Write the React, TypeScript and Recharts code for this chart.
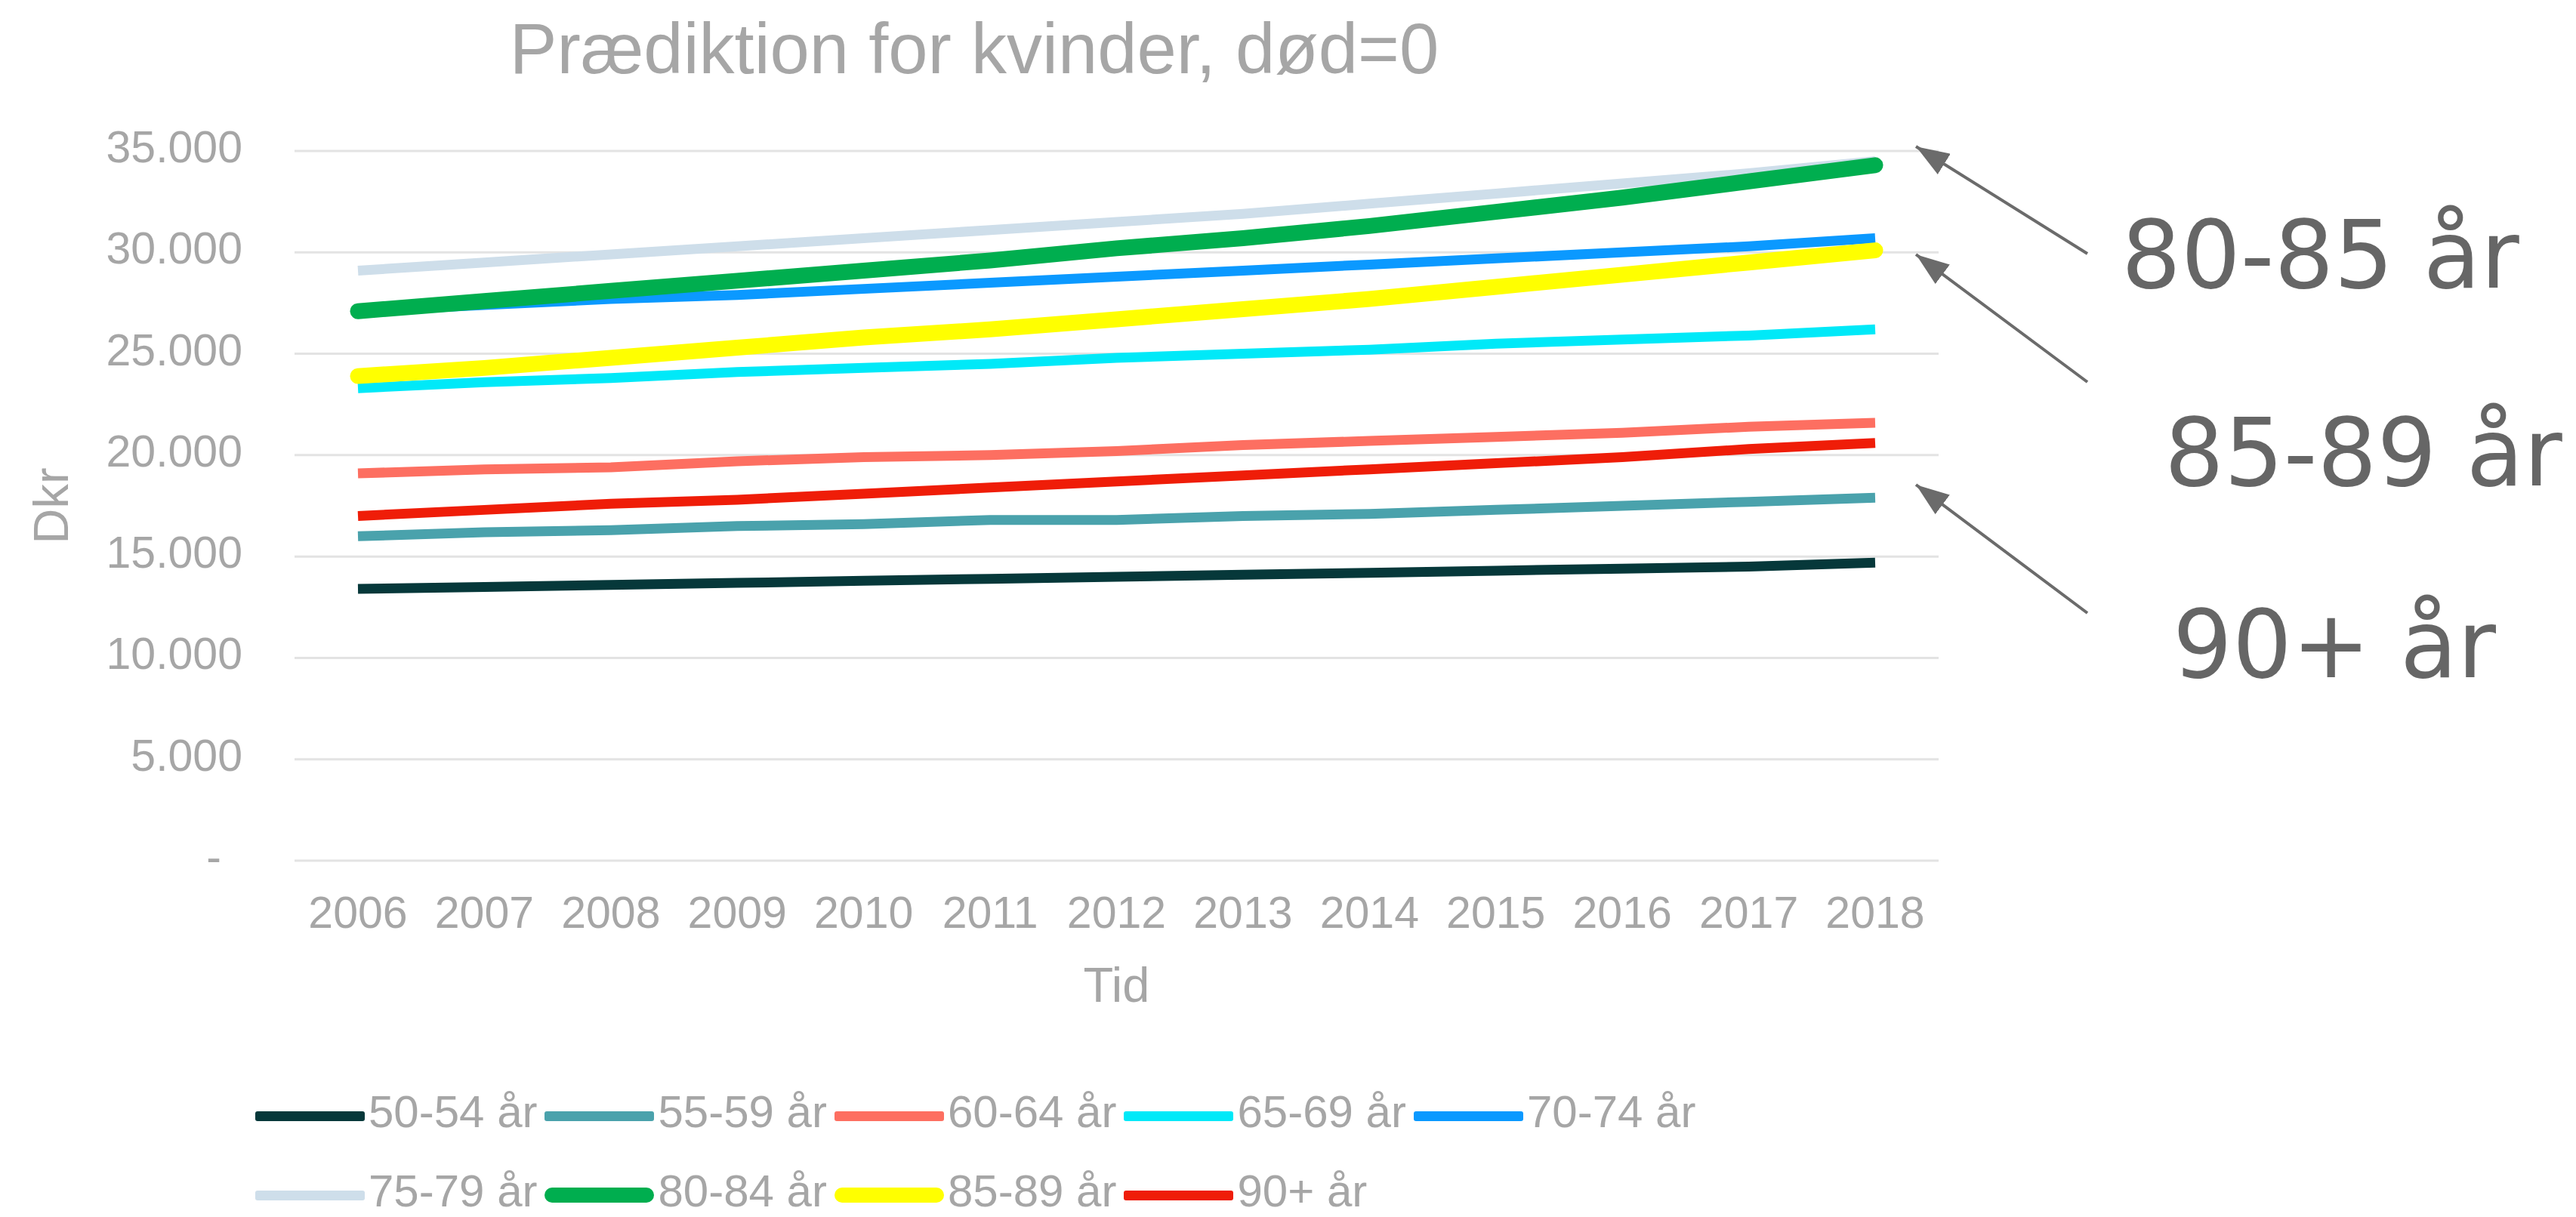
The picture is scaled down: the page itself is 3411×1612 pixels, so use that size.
import { LineChart, Line, XAxis, YAxis, CartesianGrid, Legend } from 'recharts'

const FONT = '"Liberation Sans", Arial, sans-serif'
const TEXT = '#a6a6a6'

const years = ['2006', '2007', '2008', '2009', '2010', '2011', '2012', '2013', '2014', '2015', '2016', '2017', '2018']

const age5054 = [13400, 13500, 13600, 13700, 13800, 13900, 14000, 14100, 14200, 14300, 14400, 14500, 14700]
const age5559 = [16000, 16200, 16300, 16500, 16600, 16800, 16800, 17000, 17100, 17300, 17500, 17700, 17900]
const age6064 = [19100, 19300, 19400, 19700, 19900, 20000, 20200, 20500, 20700, 20900, 21100, 21400, 21600]
const age6569 = [23300, 23600, 23800, 24100, 24300, 24500, 24800, 25000, 25200, 25500, 25700, 25900, 26200]
const age7074 = [27100, 27400, 27700, 27900, 28200, 28500, 28800, 29100, 29400, 29700, 30000, 30300, 30700]
const age7579 = [29100, 29500, 29900, 30300, 30700, 31100, 31500, 31900, 32400, 32900, 33400, 33900, 34500]
const age8084 = [27100, 27600, 28100, 28600, 29100, 29600, 30200, 30700, 31300, 32000, 32700, 33500, 34300]
const age8589 = [23900, 24300, 24800, 25300, 25800, 26200, 26700, 27200, 27700, 28300, 28900, 29500, 30100]
const age90 = [17000, 17300, 17600, 17800, 18100, 18400, 18700, 19000, 19300, 19600, 19900, 20300, 20600]

const yTicks = [0, 5000, 10000, 15000, 20000, 25000, 30000, 35000]

const seriesList = [
  { key: 'a5054', name: '50-54 år', color: '#06383a', thick: false, values: age5054 },
  { key: 'a5559', name: '55-59 år', color: '#4aa2ac', thick: false, values: age5559 },
  { key: 'a6064', name: '60-64 år', color: '#fd6f61', thick: false, values: age6064 },
  { key: 'a6569', name: '65-69 år', color: '#00e9f8', thick: false, values: age6569 },
  { key: 'a7074', name: '70-74 år', color: '#0b99ff', thick: false, values: age7074 },
  { key: 'a7579', name: '75-79 år', color: '#cedeea', thick: false, values: age7579 },
  { key: 'a8084', name: '80-84 år', color: '#00ae4f', thick: true, values: age8084 },
  { key: 'a8589', name: '85-89 år', color: '#ffff00', thick: true, values: age8589 },
  { key: 'a90', name: '90+ år', color: '#ef1d08', thick: false, values: age90 },
]

const data = years.map((year, i) => {
  const row: Record<string, string | number> = { year }
  seriesList.forEach((s) => {
    row[s.key] = s.values[i]
  })
  return row
})

function fmt(v: number) {
  return String(v).replace(/\B(?=(\d{3})+(?!\d))/g, '.')
}

function YTick(props: any) {
  const { x, y, payload } = props
  const zero = payload.value === 0
  return (
    <text x={zero ? x - 28 : x} y={y - 6} dy="0.355em" textAnchor="end" fill={TEXT} fontSize={59} fontFamily={FONT}>
      {zero ? '-' : fmt(payload.value)}
    </text>
  )
}

function DkrLabel(props: any) {
  const { viewBox } = props
  const cy = viewBox.y + viewBox.height / 2
  return (
    <text x={67} y={cy} transform={`rotate(-90 67 ${cy})`} textAnchor="middle" dy="0.355em" fill={TEXT} fontSize={65} fontFamily={FONT}>
      Dkr
    </text>
  )
}

function LegendContent() {
  return (
    <div style={{ display: 'flex', flexWrap: 'wrap', width: 1980, fontFamily: FONT, fontSize: 60, color: TEXT }}>
      {seriesList.map((s) => (
        <div key={s.key} style={{ display: 'flex', alignItems: 'center', height: 105, marginRight: 10 }}>
          <div
            style={{
              width: 145,
              height: s.thick ? 20 : 13,
              marginTop: 11,
              background: s.color,
              borderRadius: s.thick ? 10 : 3,
            }}
          />
          <span style={{ marginLeft: 5, lineHeight: '105px', whiteSpace: 'nowrap' }}>{s.name}</span>
        </div>
      ))}
    </div>
  )
}

// callouts to the right of the plot
const callouts = [
  { text: '80-85 år', tx: 2809, ty: 381, from: [2764, 336], to: [2537, 194] },
  { text: '85-89 år', tx: 2866, ty: 643, from: [2764, 506], to: [2537, 337] },
  { text: '90+ år', tx: 2877, ty: 897, from: [2764, 812], to: [2537, 642] },
]

export default function App() {
  return (
    <div style={{ position: 'fixed', left: 0, top: 0, width: 3411, height: 1612, overflow: 'hidden', background: '#fff' }}>
      <LineChart width={3411} height={1612} data={data} margin={{ top: 200, right: 844, bottom: 280, left: 0 }}>
        <CartesianGrid vertical={false} stroke="#e3e3e3" strokeWidth={3} />
        <XAxis
          dataKey="year"
          interval={0}
          padding={{ left: 84, right: 84 }}
          axisLine={false}
          tickLine={false}
          tickSize={0}
          tickMargin={47}
          height={192}
          tick={{ fill: TEXT, fontSize: 59, fontFamily: FONT }}
          label={{ value: 'Tid', position: 'insideBottom', offset: 5, fill: TEXT, fontSize: 65, fontFamily: FONT }}
        />
        <YAxis
          domain={[0, 35000]}
          ticks={yTicks}
          width={390}
          axisLine={false}
          tickLine={false}
          tickSize={0}
          tickMargin={69}
          tick={<YTick />}
          label={<DkrLabel />}
        />
        <Legend
          layout="horizontal"
          verticalAlign="middle"
          align="center"
          content={<LegendContent />}
          wrapperStyle={{ left: 338, top: 1420, width: 1980, height: 210 }}
        />
        {seriesList.map((s) => (
          <Line
            key={s.key}
            type="linear"
            dataKey={s.key}
            name={s.name}
            stroke={s.color}
            strokeWidth={s.thick ? 21 : 13}
            strokeLinecap={s.thick ? 'round' : 'butt'}
            strokeLinejoin="round"
            dot={false}
            activeDot={false}
            isAnimationActive={false}
          />
        ))}
      </LineChart>
      <svg width={3411} height={1612} style={{ position: 'absolute', left: 0, top: 0, pointerEvents: 'none' }}>
        <defs>
          <marker id="ah" viewBox="0 0 44 32" refX={44} refY={16} markerWidth={44} markerHeight={32} markerUnits="userSpaceOnUse" orient="auto">
            <path d="M0,0 L44,16 L0,32 Z" fill="#6b6b6b" />
          </marker>
        </defs>
        <text x={1290} y={97} textAnchor="middle" fill={TEXT} fontSize={94} fontFamily={FONT}>
          Prædiktion for kvinder, død=0
        </text>
        {callouts.map((c) => (
          <g key={c.text}>
            <line x1={c.from[0]} y1={c.from[1]} x2={c.to[0]} y2={c.to[1]} stroke="#6b6b6b" strokeWidth={4} markerEnd="url(#ah)" />
            <text x={c.tx} y={c.ty} fill="#666666" fontSize={124} fontFamily='"DejaVu Sans", sans-serif'>
              {c.text}
            </text>
          </g>
        ))}
      </svg>
    </div>
  )
}
